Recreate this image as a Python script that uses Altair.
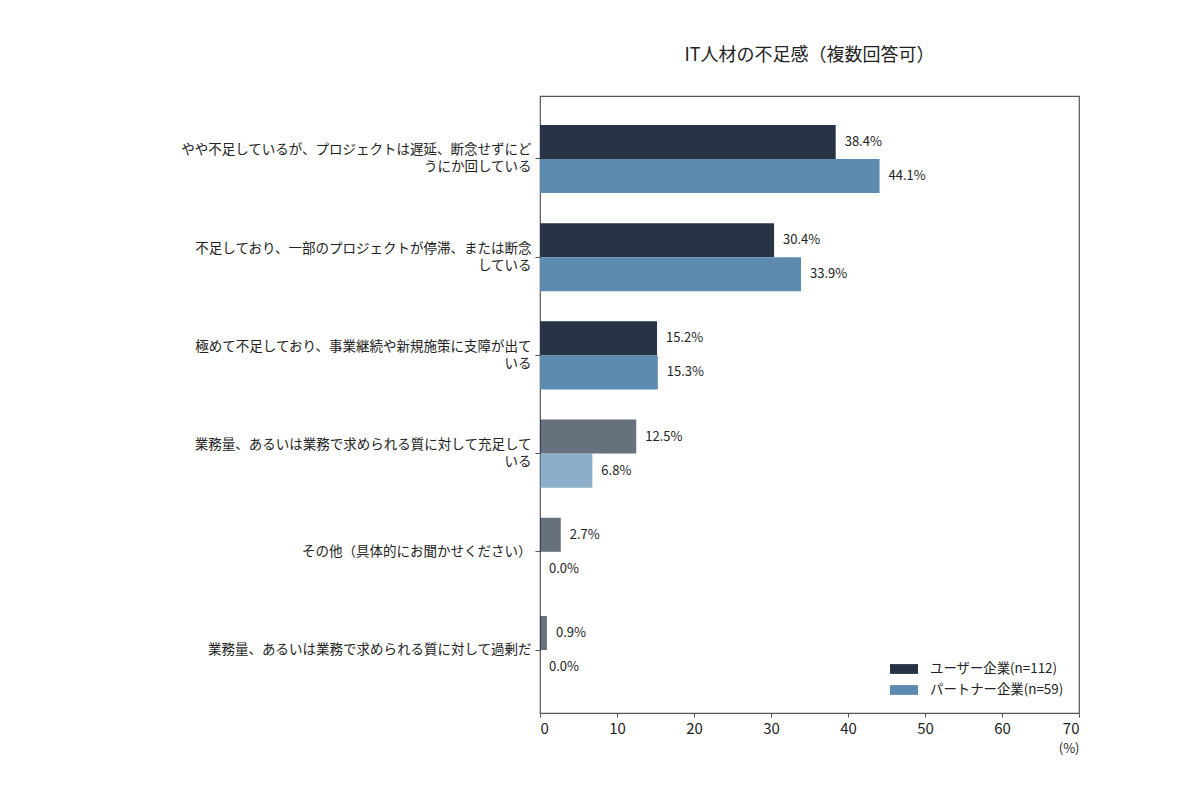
import altair as alt
import pandas as pd

title = "IT人材の不足感（複数回答可）"
categories = [
    "やや不足しているが、プロジェクトは遅延、断念せずにど\nうにか回している",
    "不足しており、一部のプロジェクトが停滞、または断念\nしている",
    "極めて不足しており、事業継続や新規施策に支障が出て\nいる",
    "業務量、あるいは業務で求められる質に対して充足して\nいる",
    "その他（具体的にお聞かせください）",
    "業務量、あるいは業務で求められる質に対して過剰だ",
]
series = ["ユーザー企業(n=112)", "パートナー企業(n=59)"]
user_vals = [38.4, 30.4, 15.2, 12.5, 2.7, 0.9]
partner_vals = [44.1, 33.9, 15.3, 6.8, 0.0, 0.0]
colors = ["#263446", "#5d8bb0"]

rows = []
for i, c in enumerate(categories):
    for s, vals in zip(series, [user_vals, partner_vals]):
        rows.append({"cat": c, "series": s, "value": vals[i], "muted": i >= 3})
df = pd.DataFrame(rows)

FONT = "Noto Sans CJK JP"

y_enc = alt.Y("cat:N", sort=categories, title=None,
              scale=alt.Scale(paddingInner=0.307, paddingOuter=0.295),
              axis=alt.Axis(labelExpr="split(datum.label, '\\n')", labelFontSize=13.5,
                            labelLineHeight=17, labelColor="#222", tickSize=5,
                            tickColor="#555", labelPadding=4, labelLimit=400,
                            labelOffset={"condition": {"test": "indexof(datum.value, '\\n') >= 0",
                                                       "value": -8.5}, "value": 0},
                            domain=False, labelFont=FONT))
yoff = alt.YOffset("series:N", sort=series, scale=alt.Scale(paddingInner=0, paddingOuter=0))

base = alt.Chart(df)

bars = base.mark_bar().encode(
    x=alt.X("value:Q", scale=alt.Scale(domain=[0, 70], nice=False),
            axis=alt.Axis(values=list(range(0, 71, 10)), grid=False, labelFontSize=15,
                          labelColor="#222", tickSize=4, tickColor="#555", domain=False,
                          title="(%)", titleAnchor="end", titleFontSize=13,
                          titleFontWeight="normal", titleColor="#222", titlePadding=6,
                          labelPadding=4, labelFont=FONT, titleFont=FONT)),
    y=y_enc,
    yOffset=yoff,
    color=alt.Color("series:N", sort=series,
                    scale=alt.Scale(domain=series, range=colors),
                    legend=alt.Legend(title=None, orient="none", legendX=357, legendY=566,
                                      symbolType="M-2,-0.7H2V0.7H-2Z", symbolSize=196,
                                      symbolStrokeWidth=0, symbolOpacity=1,
                                      labelFontSize=13.4, labelColor="#222", labelFont=FONT,
                                      rowPadding=7, labelOffset=19)),
    opacity=alt.condition(alt.datum.muted, alt.value(0.7), alt.value(1.0)),
)

labels = base.transform_calculate(
    lab="format(datum.value, '.1f') + '%'"
).mark_text(align="left", baseline="middle", dx=9, fontSize=13, color="#222", font=FONT).encode(
    x="value:Q",
    y=alt.Y("cat:N", sort=categories),
    yOffset=yoff,
    text="lab:N",
)

chart = alt.layer(bars, labels).properties(
    width=539,
    height=617,
    title=alt.TitleParams(title, fontSize=18, fontWeight="normal", color="#222",
                          font=FONT, offset=31),
    autosize=alt.AutoSizeParams(type="none"),
    padding={"left": 532, "top": 88, "right": 100, "bottom": 60},
).configure_view(stroke="#555", strokeWidth=1.2)

chart.save("out.html", embed_options={"renderer": "svg", "actions": False})
